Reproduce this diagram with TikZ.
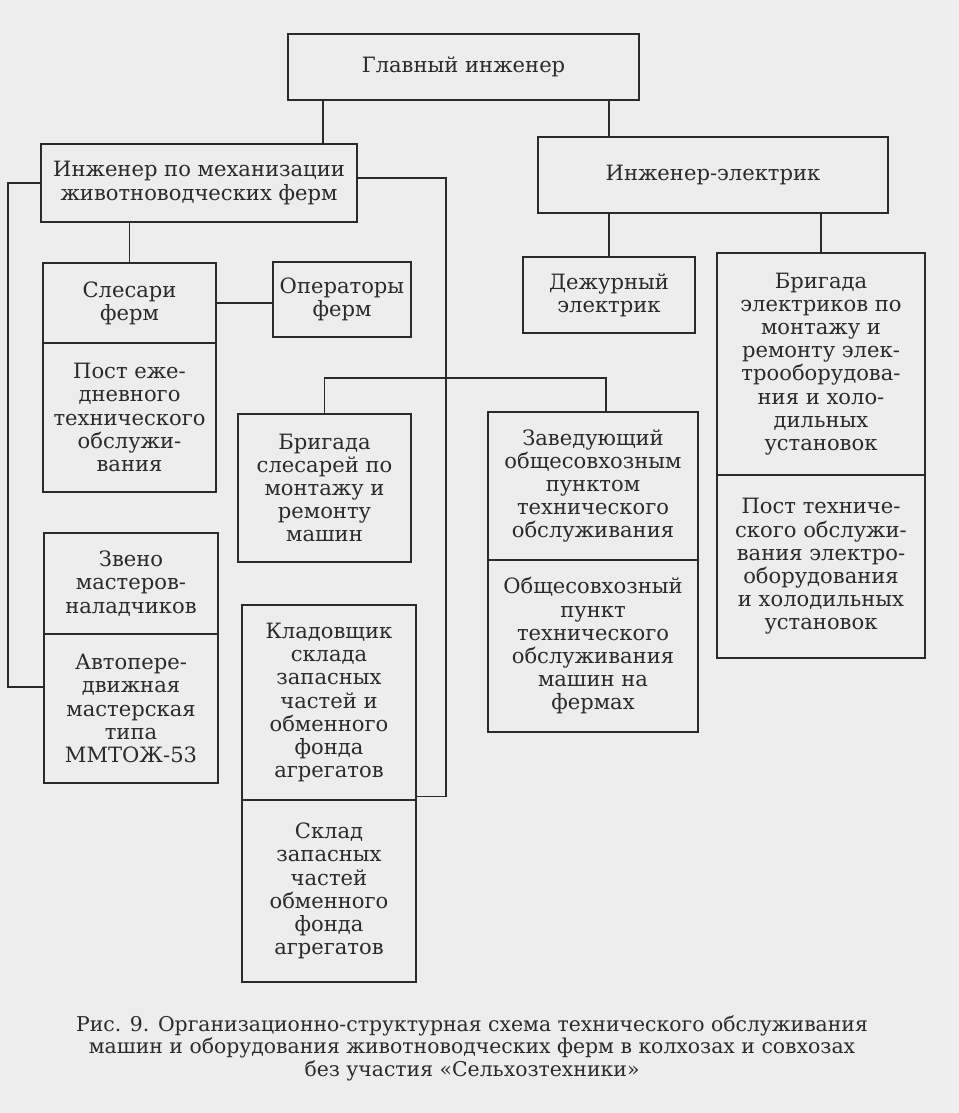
\documentclass[tikz,border=0pt]{standalone}
\usepackage{fontspec}
\setmainfont{DejaVu Serif}
\usetikzlibrary{positioning,calc}
\definecolor{ink}{HTML}{2A2A2A}
\definecolor{paper}{HTML}{EDEDED}

\begin{document}
\begin{tikzpicture}[x=0.02cm, y=-0.02cm,
  box/.style={draw=ink, line width=1pt, inner sep=0pt, outer sep=0pt, align=center, text=ink, font=\fontsize{12}{13.2}\selectfont},
  link/.style={draw=ink, line width=1pt}
]
  \fill[paper] (0,0) rectangle (959,1113);
  % top level
  \node[box, minimum width=7.02cm, minimum height=1.32cm] (glav) at (463.5,67) {Главный инженер};
  \node[box, minimum width=6.32cm, minimum height=1.56cm] (mech) at (199,183) {Инженер по механизации\\животноводческих ферм};
  \node[box, minimum width=7cm, minimum height=1.52cm] (elec) at (713,175) {Инженер-электрик};
  % left column
  \node[box, minimum width=3.46cm, minimum height=1.6cm] (slesari) at (129.5,303) {Слесари\\ферм};
  \node[box, minimum width=3.46cm, minimum height=2.98cm, below=0pt of slesari] (post) {Пост еже-\\дневного\\технического\\обслужи-\\вания};
  \node[box, minimum width=2.76cm, minimum height=1.5cm] (oper) at (342,299.5) {Операторы\\ферм};
  \node[box, minimum width=3.48cm, minimum height=2.02cm] (zveno) at (131,583.5) {Звено\\мастеров-\\наладчиков};
  \node[box, minimum width=3.48cm, minimum height=2.98cm, below=0pt of zveno] (avto) {Автопере-\\движная\\мастерская\\типа\\ММТОЖ-53};
  % middle
  \node[box, minimum width=3.46cm, minimum height=2.96cm] (brslesar) at (324.5,488) {Бригада\\слесарей по\\монтажу и\\ремонту\\машин};
  \node[box, minimum width=3.48cm, minimum height=3.9cm] (kladov) at (329,702.5) {Кладовщик\\склада\\запасных\\частей и\\обменного\\фонда\\агрегатов};
  \node[box, minimum width=3.48cm, minimum height=3.64cm, below=0pt of kladov] (sklad) {Склад\\запасных\\частей\\обменного\\фонда\\агрегатов};
  \node[box, minimum width=4.2cm, minimum height=2.96cm] (zaved) at (593,486) {Заведующий\\общесовхозным\\пунктом\\технического\\обслуживания};
  \node[box, minimum width=4.2cm, minimum height=3.44cm, below=0pt of zaved] (obsch) {Общесовхозный\\пункт\\технического\\обслуживания\\машин на\\фермах};
  % electric side
  \node[box, minimum width=3.44cm, minimum height=1.52cm] (dezhur) at (609,295) {Дежурный\\электрик};
  \node[box, minimum width=4.16cm, minimum height=4.44cm] (brelec) at (821,364) {Бригада\\электриков по\\монтажу и\\ремонту элек-\\трооборудова-\\ния и холо-\\дильных\\установок};
  \node[box, minimum width=4.16cm, minimum height=3.66cm, below=0pt of brelec] (postel) {Пост техниче-\\ского обслужи-\\вания электро-\\оборудования\\и холодильных\\установок};
  % caption
  \node[align=center, text=ink, font=\fontsize{11.6}{12.8}\selectfont] (caption) at (472,1048)
    {Рис. 9. Организационно-структурная схема технического обслуживания\\
     машин и оборудования животноводческих ферм в колхозах и совхозах\\
     без участия «Сельхозтехники»};
  % connectors
  \coordinate (tapglav) at (323,0);
  \coordinate (tapzav) at (606,0);
  \coordinate (hub) at (446,378);
  \coordinate (railL) at (8,687);
  \draw[link] (glav.south -| tapglav) -- (mech.north -| tapglav);
  \draw[link] (glav.south -| dezhur.north) -- (elec.north -| dezhur.north);
  \draw[link] (mech.south -| slesari.north) -- (slesari.north);
  \draw[link] (slesari.east) -- (slesari.east -| oper.west);
  \draw[link] (mech.west) -| (railL) -- (railL -| avto.west);
  \draw[link] ([yshift=3pt]mech.east) -| (hub);
  \draw[link] (brslesar.north) |- (hub) -| (zaved.north -| tapzav);
  \draw[link] (hub) |- ([yshift=2pt]kladov.south east);
  \draw[link] (elec.south -| dezhur.north) -- (dezhur.north);
  \draw[link] (elec.south -| brelec.north) -- (brelec.north);
\end{tikzpicture}
\end{document}
